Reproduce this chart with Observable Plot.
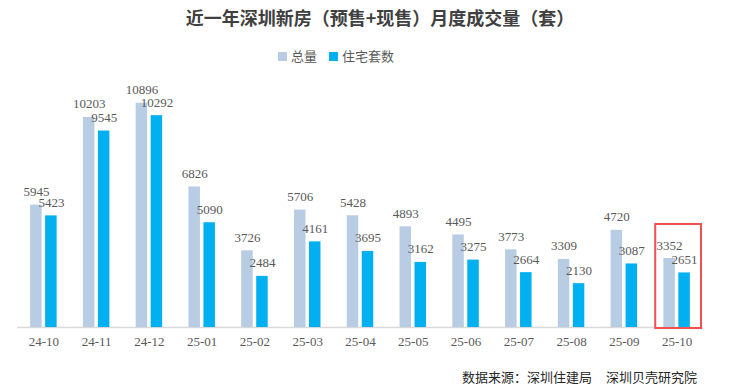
<!DOCTYPE html>
<html>
<head>
<meta charset="utf-8">
<script src="https://cdn.jsdelivr.net/npm/d3@7"></script>
<script src="https://cdn.jsdelivr.net/npm/@observablehq/plot@0.6"></script>
<style>
  body { margin: 0; background: #fff; }
  #wrap { position: relative; width: 740px; height: 390px; background: #fff; font-family: "Noto Sans CJK SC", sans-serif; }
  #title { position: absolute; top: 6px; left: 10px; width: 740px; text-align: center; font-size: 18px; line-height: 22px; font-weight: bold; color: #404040; }
  #legend { position: absolute; top: 47px; left: 278px; font-size: 13px; line-height: 18px; color: #595959; display: flex; align-items: center; }
  #legend .sw { display: inline-block; width: 9px; height: 9px; margin-right: 4px; }
  #legend .item { display: flex; align-items: center; margin-right: 12px; }
  #chart { position: absolute; top: 70px; left: 0; }
  #caption { position: absolute; top: 368px; left: 462px; font-size: 13px; line-height: 18px; color: #262626; white-space: nowrap; }
  #caption .gap { display: inline-block; width: 14px; }
</style>
</head>
<body>
<div id="wrap">
  <div id="title">近一年深圳新房（预售+现售）月度成交量（套）</div>
  <div id="legend"></div>
  <div id="chart"></div>
  <div id="caption">数据来源：深圳住建局<span class="gap"></span>深圳贝壳研究院</div>
</div>
<script>
const months = ["24-10","24-11","24-12","25-01","25-02","25-03","25-04","25-05","25-06","25-07","25-08","25-09","25-10"];
const series = ["总量","住宅套数"];
const colors = ["#b8cce4","#00b0f0"];
const totalValues = [5945,10203,10896,6826,3726,5706,5428,4893,4495,3773,3309,4720,3352];
const residentialValues = [5423,9545,10292,5090,2484,4161,3695,3162,3275,2664,2130,3087,2651];
const highlightMonth = "25-10";

const data = [];
months.forEach((m, i) => {
  data.push({month: m, series: series[0], value: totalValues[i]});
  data.push({month: m, series: series[1], value: residentialValues[i]});
});

// legend
const legend = document.getElementById("legend");
series.forEach((s, i) => {
  const it = document.createElement("span");
  it.className = "item";
  const sw = document.createElement("span");
  sw.className = "sw";
  sw.style.background = colors[i];
  it.appendChild(sw);
  it.appendChild(document.createTextNode(s));
  legend.appendChild(it);
});

const chart = Plot.plot({
  width: 740,
  height: 285,
  marginTop: 10,
  marginBottom: 28,
  marginLeft: 17,
  marginRight: 37,
  style: {fontFamily: "'Liberation Serif', serif", fontSize: "13px", background: "transparent", color: "#595959"},
  fx: {domain: months, padding: 0, round: false, label: null, axis: "bottom", tickSize: 0, tickPadding: 9},
  x: {domain: series, paddingInner: 0.233, paddingOuter: 0.877, round: false, axis: null},
  y: {domain: [0, 12000], axis: null},
  color: {domain: series, range: colors},
  marks: [
    Plot.ruleY([0], {stroke: "#d9d9d9", strokeWidth: 1.5}),
    Plot.barY(data, {fx: "month", x: "series", y: "value", fill: "series"}),
    Plot.text(data, {fx: "month", x: "series", y: "value", text: d => String(d.value),
      lineAnchor: "bottom", dy: -9, fontSize: 13, fill: "#595959"}),
    Plot.barY([{month: highlightMonth}], {fx: "month", y1: -50, y2: 5005, fill: "none",
      stroke: "#f05050", strokeWidth: 2, insetLeft: 5, insetRight: 2})
  ]
});
document.getElementById("chart").appendChild(chart);
</script>
</body>
</html>
